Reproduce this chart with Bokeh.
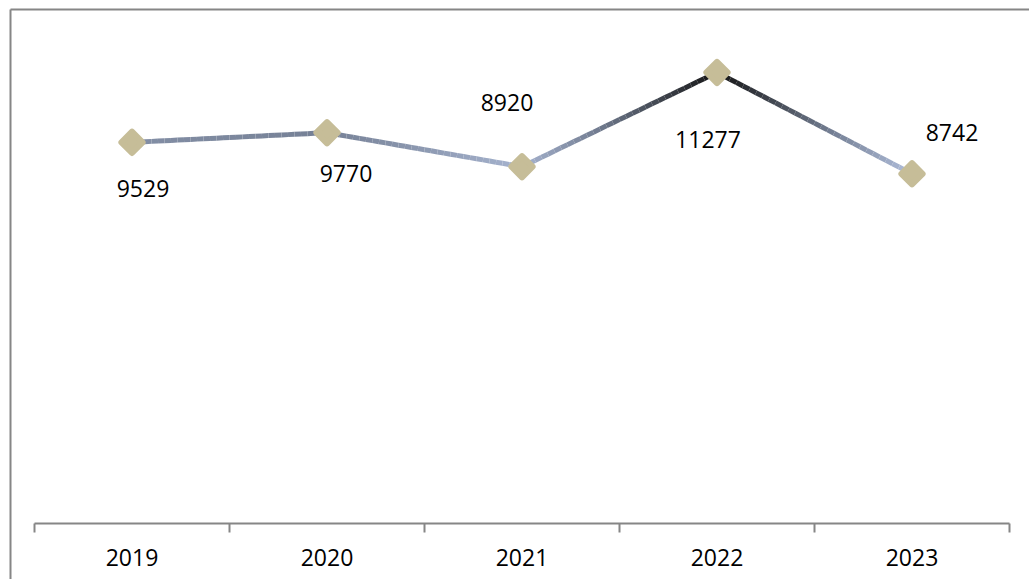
from bokeh.plotting import figure
from bokeh.models import FixedTicker, Range1d, LinearAxis, ColumnDataSource
from bokeh.core.properties import value
from bokeh.embed import file_html
from bokeh.resources import INLINE

years = ["2019", "2020", "2021", "2022", "2023"]
counts = [9529, 9770, 8920, 11277, 8742]

# label offsets (screen px) – style only
label_dx = [11, 19, -15, -9, 40]
label_dy = [46, 41, -64, 67, -41]

n = len(years)
xs = [i + 0.5 for i in range(n)]

W, H = 1029, 579
FL, FT = 10, 9            # frame left / top (px)
FR = 0                    # right border (px)
AX0, AX1 = 34, 1009       # x-axis extent (px)
AXY = 523                 # x-axis line (px)
pxu = (AX1 - AX0) / n
x_start = -(AX0 - FL) / pxu
x_end = n + (W - FR - AX1) / pxu
ppv = 0.04                # px per value unit
y_end = (AXY - FT) / ppv
y_start = -(H - AXY) / ppv

p = figure(width=W, height=H, output_backend="svg", toolbar_location=None,
           x_range=Range1d(x_start, x_end), y_range=Range1d(y_start, y_end),
           x_axis_location=None, y_axis_location="left",
           min_border_left=FL, min_border_right=FR,
           min_border_top=FT, min_border_bottom=0)
p.outline_line_color = None
p.xgrid.visible = False
p.ygrid.visible = False

# left border via y-axis line
ya = p.yaxis[0]
ya.ticker = FixedTicker(ticks=[])
ya.major_tick_out = 0
ya.major_tick_in = 0
ya.minor_tick_out = 0
ya.minor_tick_in = 0
ya.major_label_text_font_size = "0px"
ya.axis_line_color = "#868686"
ya.axis_line_width = 2

# top border via an above axis line
top = LinearAxis(ticker=FixedTicker(ticks=[]), major_tick_out=0, major_tick_in=0,
                 minor_tick_out=0, minor_tick_in=0, major_label_text_font_size="0px",
                 axis_line_color="#868686", axis_line_width=2)
p.add_layout(top, "above")

# gradient line: dark at top value, light at bottom value
vmax, vmin = max(counts), min(counts)
stops = [(0.0, (20, 20, 20)), (0.594, (117, 128, 149)), (1.0, (176, 190, 219))]

def grad(v):
    t = (vmax - v) / (vmax - vmin)
    for (t0, c0), (t1, c1) in zip(stops[:-1], stops[1:]):
        if t <= t1 + 1e-9:
            f = 0 if t1 == t0 else (t - t0) / (t1 - t0)
            return "#%02x%02x%02x" % tuple(int(round(a + (b - a) * f)) for a, b in zip(c0, c1))
    return "#%02x%02x%02x" % stops[-1][1]

x0s, y0s, x1s, y1s, cols = [], [], [], [], []
N = 30
for i in range(n - 1):
    for k in range(N):
        a, b = k / N, (k + 1) / N
        x0s.append(xs[i] + (xs[i + 1] - xs[i]) * a)
        x1s.append(xs[i] + (xs[i + 1] - xs[i]) * b)
        ya_ = counts[i] + (counts[i + 1] - counts[i]) * a
        yb_ = counts[i] + (counts[i + 1] - counts[i]) * b
        y0s.append(ya_); y1s.append(yb_)
        cols.append(grad((ya_ + yb_) / 2))

p.segment(x0=x0s, y0=y0s, x1=x1s, y1=y1s, line_color=cols, line_width=5)

src = ColumnDataSource(dict(x=xs, y=counts, lbl=[str(c) for c in counts],
                            dx=label_dx, dy=label_dy))
p.scatter("x", "y", source=src, marker="square", size=15, angle=0.785398,
          fill_color="#c6bd98", line_color="#c6bd98", line_width=6,
          line_join="round")

p.text("x", "y", text="lbl", source=src, x_offset="dx", y_offset="dy",
       text_font=value("Open Sans"), text_font_size="23px", text_color="#000000",
       text_align="center", text_baseline="middle")

# bottom category axis at value 0
ax = LinearAxis(fixed_location=0, bounds=(0, n))
ax.ticker = FixedTicker(ticks=xs, minor_ticks=list(range(n + 1)))
ax.major_label_overrides = {x: y for x, y in zip(xs, years)}
ax.major_label_text_font = "Open Sans"
ax.major_label_text_font_size = "23px"
ax.major_label_text_color = "#000000"
ax.major_label_standoff = 16
ax.major_tick_line_color = None
ax.major_tick_out = 9
ax.major_tick_in = 0
ax.minor_tick_line_color = "#868686"
ax.minor_tick_line_width = 2
ax.minor_tick_out = 9
ax.minor_tick_in = 0
ax.axis_line_color = "#868686"
ax.axis_line_width = 2
p.add_layout(ax, "below")

open("out.html", "w").write(file_html(p, INLINE))
